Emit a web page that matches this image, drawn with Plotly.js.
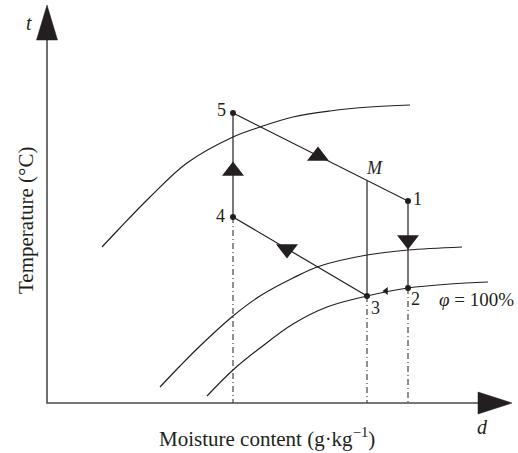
<!DOCTYPE html>
<html>
<head>
<meta charset="utf-8">
<script src="https://cdn.plot.ly/plotly-3.0.1.min.js"></script>
<style>html,body{margin:0;padding:0;background:#fff}#chart{width:518px;height:453px}</style>
</head>
<body>
<div id="chart"></div>
<script>
// Sketch coordinates: d (moisture content), t (temperature), arbitrary units
const curveA_d = [55, 71, 103, 140, 186, 213, 246, 283, 323, 363];
const curveA_t = [156, 173, 206, 240, 266, 276, 286, 292, 296, 298];
const curveB_d = [113, 133, 153, 186, 213, 246, 273, 320, 361, 415];
const curveB_t = [16, 37, 57, 87, 107, 125, 137, 148, 153, 156];
const curveC_d = [160, 186, 213, 246, 280, 320, 361, 403, 441];
const curveC_t = [7, 33, 55, 79, 96, 107, 115, 119, 121];

const pointLabels = ['1', '2', '3', '4', '5', 'M'];
const pointD = [361, 361, 320, 186, 186, 320];
const pointT = [202, 115, 107, 186, 290, 222];

const arrowD = [186, 271, 361, 240];
const arrowT = [232, 247, 163, 154];
const arrowDir = ['triangle-up', 'triangle-up', 'triangle-down', 'triangle-down'];
const smallArrowD = [339];
const smallArrowT = [112];

const axisDMax = 465, axisTMax = 398;
const xTitle = 'Moisture content (g·kg<sup>−1</sup>)';
const yTitle = 'Temperature (°C)';
const satLabel = '<i>φ</i> = 100%';

const P = {};
pointLabels.forEach((k, i) => P[k] = [pointD[i], pointT[i]]);

const black = '#231f20';
const serif = 'Liberation Serif, Times New Roman, serif';
const traces = [];
function line(xs, ys, opts) {
  traces.push(Object.assign({type: 'scatter', mode: 'lines', x: xs, y: ys, hoverinfo: 'skip',
    line: {color: black, width: 1.2}}, opts || {}));
}
// curves
line(curveA_d, curveA_t, {line: {color: black, width: 1.2, shape: 'spline'}});
line(curveB_d, curveB_t, {line: {color: black, width: 1.2, shape: 'spline'}});
line(curveC_d, curveC_t, {line: {color: black, width: 1.2, shape: 'spline'}});
// process lines
line([P['4'][0], P['5'][0], P['1'][0], P['2'][0]], [P['4'][1], P['5'][1], P['1'][1], P['2'][1]]);
line([P['3'][0], P['4'][0]], [P['3'][1], P['4'][1]]);
line([P['M'][0], P['3'][0]], [P['M'][1], P['3'][1]]);
// dash-dot projections
['4', '3', '2'].forEach(k => line([P[k][0], P[k][0]], [P[k][1], 0],
  {line: {color: black, width: 1, dash: '6px,3px,1px,3px'}}));
// axes
line([0, 0, axisDMax - 34], [axisTMax - 34, 0, 0], {line: {color: '#4a4a4a', width: 1.6}});
traces.push({type: 'scatter', mode: 'lines', fill: 'toself', fillcolor: black, hoverinfo: 'skip',
  x: [-10.5, 10.5, 0, -10.5], y: [axisTMax - 35, axisTMax - 35, axisTMax, axisTMax - 35],
  line: {color: black, width: 0.5}});
traces.push({type: 'scatter', mode: 'lines', fill: 'toself', fillcolor: black, hoverinfo: 'skip',
  x: [axisDMax - 34, axisDMax - 34, axisDMax, axisDMax - 34], y: [-11, 11, 0, -11],
  line: {color: black, width: 0.5}});
// dots
traces.push({type: 'scatter', mode: 'markers', hoverinfo: 'skip',
  x: pointD.slice(0, 5), y: pointT.slice(0, 5), marker: {color: black, size: 6}});
// direction arrows
traces.push({type: 'scatter', mode: 'markers', hoverinfo: 'skip', x: arrowD, y: arrowT,
  marker: {color: black, size: 19, symbol: arrowDir, line: {width: 0}}});
traces.push({type: 'scatter', mode: 'markers', hoverinfo: 'skip', x: smallArrowD, y: smallArrowT,
  marker: {color: black, size: 7, symbol: 'triangle-left', line: {width: 0}}});

const labelOffsets = {'1': [9, 2], '2': [7, -11], '3': [8, -12], '4': [-13, 1], '5': [-12, 3], 'M': [7, 13]};
const annotations = pointLabels.map((k, i) => ({
  x: pointD[i] + labelOffsets[k][0], y: pointT[i] + labelOffsets[k][1], text: k === 'M' ? '<i>M</i>' : k,
  showarrow: false, xanchor: 'center', yanchor: 'middle', font: {family: serif, size: 18, color: black}
}));
annotations.push({x: -18, y: 380, text: '<i>t</i>', showarrow: false, font: {family: serif, size: 20, color: black}});
annotations.push({x: 435, y: -24, text: '<i>d</i>', showarrow: false, font: {family: serif, size: 20, color: black}});
annotations.push({x: 429, y: 104, text: satLabel, showarrow: false, font: {family: serif, size: 19, color: black}});
annotations.push({x: 220, y: -34, text: xTitle, showarrow: false, font: {family: serif, size: 21, color: black}});
annotations.push({x: -21, y: 182, text: yTitle, textangle: -90, showarrow: false, font: {family: serif, size: 21, color: black}});

Plotly.newPlot('chart', traces, {
  width: 518, height: 453, margin: {l: 0, r: 0, t: 0, b: 0},
  paper_bgcolor: '#fff', plot_bgcolor: '#fff', showlegend: false,
  xaxis: {range: [-47, 471], visible: false, fixedrange: true},
  yaxis: {range: [-50, 403], visible: false, fixedrange: true},
  annotations: annotations
}, {staticPlot: true});
</script>
</body>
</html>
